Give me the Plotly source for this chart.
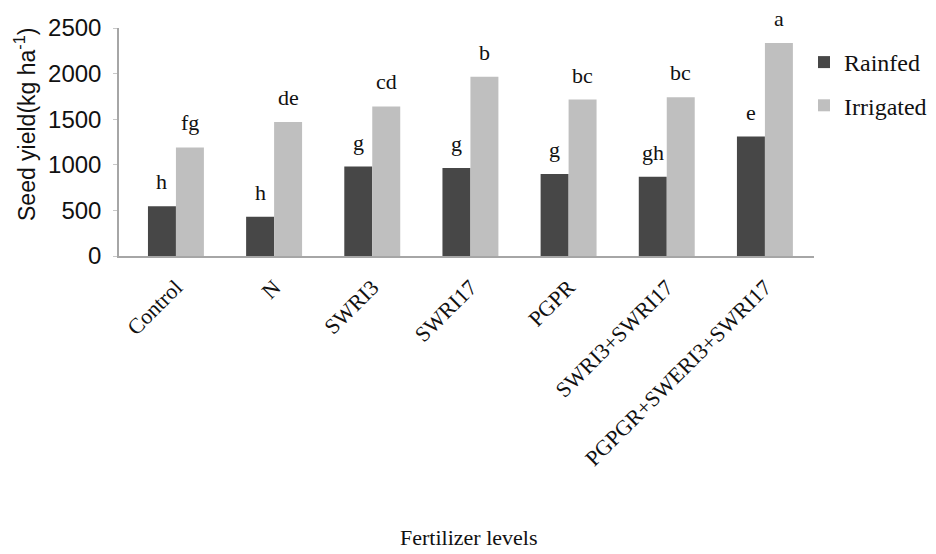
import plotly.graph_objects as go

categories = ["Control", "N", "SWRI3", "SWRI17", "PGPR", "SWRI3+SWRI17", "PGPGR+SWERI3+SWRI17"]
rainfed = [545, 430, 980, 965, 900, 870, 1310]
irrigated = [1190, 1470, 1640, 1965, 1715, 1740, 2335]
rainfed_letters = ["h", "h", "g", "g", "g", "gh", "e"]
irrigated_letters = ["fg", "de", "cd", "b", "bc", "bc", "a"]

SERIF = "Liberation Serif, Times New Roman, serif"
SANS = "Liberation Sans, Arial, sans-serif"
bargap = 0.43
half = (1 - bargap) / 4

OFF = 8               # page body margin
W, H = 936 - OFF, 554 - OFF
L, T = 119 - OFF, 28 - OFF
PLOT_BOTTOM = 256 - OFF
B = H - PLOT_BOTTOM
PW = W - L
PH = PLOT_BOTTOM - T
AX_END = 814 - OFF
dom_end = (AX_END - L) / PW

def px_x(p):
    return (p - OFF - L) / PW

def px_y(p):
    return (PLOT_BOTTOM - (p - OFF)) / PH

fig = go.Figure()
fig.add_trace(go.Bar(name="Rainfed", x=list(range(len(categories))), y=rainfed,
                     marker=dict(color="#474747", line=dict(width=0)), legendgroup="r"))
fig.add_trace(go.Bar(name="Irrigated", x=list(range(len(categories))), y=irrigated,
                     marker=dict(color="#bfbfbf", line=dict(width=0)), legendgroup="i"))

ann = []
for i in range(len(categories)):
    ann.append(dict(x=i - half, y=rainfed[i], text=rainfed_letters[i], xref="x", yref="y",
                    showarrow=False, yanchor="bottom", yshift=10,
                    font=dict(family=SERIF, size=22, color="#111")))
    ann.append(dict(x=i + half, y=irrigated[i], text=irrigated_letters[i], xref="x", yref="y",
                    showarrow=False, yanchor="bottom", yshift=10,
                    font=dict(family=SERIF, size=22, color="#111")))
ann.append(dict(x=px_x(468), y=px_y(537), xref="paper", yref="paper",
                text="Fertilizer levels", showarrow=False, xanchor="center", yanchor="middle",
                font=dict(family=SERIF, size=22, color="#111")))
ann.append(dict(x=px_x(25), y=px_y(125), xref="paper", yref="paper",
                text="Seed yield(kg ha<sup>-1</sup>)", showarrow=False, textangle=-90,
                xanchor="center", yanchor="middle",
                font=dict(family=SANS, size=23, color="#111")))

fig.update_layout(
    width=W, height=H,
    margin=dict(l=L, r=0, t=T, b=B, autoexpand=False),
    paper_bgcolor="white", plot_bgcolor="white",
    barmode="group", bargap=bargap, bargroupgap=0,
    annotations=ann,
    legend=dict(x=px_x(804), y=px_y(40), xanchor="left", yanchor="top",
                font=dict(family=SERIF, size=24, color="#111"),
                tracegroupgap=9, traceorder="grouped", itemwidth=30,
                bgcolor="rgba(0,0,0,0)"),
    xaxis=dict(domain=[0, dom_end], tickmode="array", tickvals=list(range(len(categories))),
               ticktext=categories, automargin=False,
               range=[-0.58, 6.5], tickangle=-45, showgrid=False, zeroline=False,
               showline=True, linecolor="#a6a6a6", linewidth=1.5, ticks="",
               ticklabelstandoff=8,
               tickfont=dict(family=SERIF, size=22, color="#111")),
    yaxis=dict(range=[0, 2500], tickvals=[0, 500, 1000, 1500, 2000, 2500], showgrid=False,
               automargin=False,
               zeroline=False, showline=True, linecolor="#a6a6a6", linewidth=1.5,
               ticks="outside", ticklen=4, tickcolor="#c8c8c8", ticklabelstandoff=7,
               tickfont=dict(family=SANS, size=24, color="#111")),
)

fig.write_html("out.html")
